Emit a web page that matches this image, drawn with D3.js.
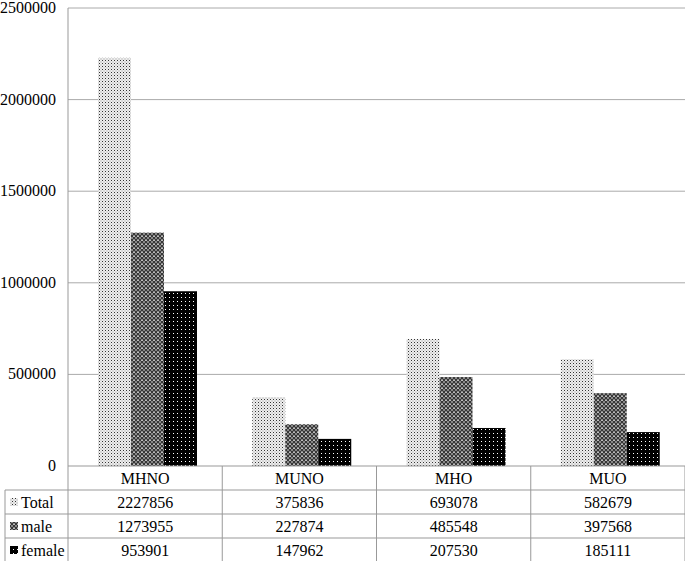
<!DOCTYPE html>
<html><head><meta charset="utf-8">
<script src="https://cdn.jsdelivr.net/npm/d3@7"></script>
<style>body{margin:0;background:#fff}svg text{font-family:'Liberation Serif','Times New Roman','DejaVu Serif',serif;fill:#000}</style>
</head><body><div id="vis"></div>
<script>
const categories = ["MHNO", "MUNO", "MHO", "MUO"];
const seriesNames = ["Total", "male", "female"];
const total = [2227856, 375836, 693078, 582679];
const male = [1273955, 227874, 485548, 397568];
const female = [953901, 147962, 207530, 185111];
const yTicks = [0, 500000, 1000000, 1500000, 2000000, 2500000];
const series = [total, male, female];

const W = 685, H = 561;
const plot = {left: 68, right: 685, top: 8, bottom: 466};
const rowH = 24;
const fs = 16;

const svg = d3.select('#vis').append('svg').attr('width', W).attr('height', H)
    .attr('font-family', "'Liberation Serif','Times New Roman','DejaVu Serif',serif");

// fill patterns
const defs = svg.append('defs');
const pTotal = defs.append('pattern').attr('id', 'pTotal').attr('width', 3).attr('height', 3).attr('patternUnits', 'userSpaceOnUse');
pTotal.append('rect').attr('width', 3).attr('height', 3).attr('fill', '#eee');
pTotal.append('rect').attr('width', 1).attr('height', 1).attr('fill', '#333');
pTotal.append('rect').attr('x', 1.5).attr('y', 1.5).attr('width', 1).attr('height', 1).attr('fill', '#999');
const pMale = defs.append('pattern').attr('id', 'pMale').attr('width', 4).attr('height', 4).attr('patternUnits', 'userSpaceOnUse');
pMale.append('rect').attr('width', 4).attr('height', 4).attr('fill', '#888');
pMale.append('path').attr('d', 'M0,0L4,4M4,0L0,4').attr('stroke', '#222').attr('stroke-width', 0.8);
pMale.append('rect').attr('x', 1.5).attr('y', 0).attr('width', 1).attr('height', 1).attr('fill', '#eee');
const pFemale = defs.append('pattern').attr('id', 'pFemale').attr('width', 4).attr('height', 4).attr('patternUnits', 'userSpaceOnUse');
pFemale.append('rect').attr('width', 4).attr('height', 4).attr('fill', '#000');
pFemale.append('rect').attr('x', 1).attr('y', 1).attr('width', 1).attr('height', 1).attr('fill', '#fff');
const fills = ['url(#pTotal)', 'url(#pMale)', 'url(#pFemale)'];

const x = d3.scaleBand().domain(categories).range([plot.left, plot.right]);
const y = d3.scaleLinear().domain([0, 2500000]).range([plot.bottom, plot.top]);

// gridlines
svg.append('g').selectAll('line').data(yTicks.slice(1)).join('line')
    .attr('x1', plot.left).attr('x2', plot.right)
    .attr('y1', d => y(d)).attr('y2', d => y(d))
    .attr('stroke', '#aaa');
svg.append('g').selectAll('text').data(yTicks).join('text')
    .attr('x', 56).attr('y', d => y(d) + 5).attr('text-anchor', 'end')
    .attr('font-size', fs).text(d => d);

// bars
const bw = 33, offset = 30;
series.forEach((vals, s) => {
    svg.append('g').selectAll('rect').data(vals).join('rect')
        .attr('x', (d, i) => x(categories[i]) + offset + s * bw)
        .attr('y', d => y(d)).attr('width', bw)
        .attr('height', d => plot.bottom - y(d))
        .attr('fill', fills[s]);
});

// table
const g = svg.append('g').attr('stroke', '#999').attr('fill', 'none');
g.append('line').attr('x1', plot.left).attr('x2', plot.left).attr('y1', plot.top).attr('y2', H);
for (let r = 0; r <= 4; r++) {
    const yy = plot.bottom + r * rowH;
    g.append('line').attr('x1', r === 0 ? plot.left : 5).attr('x2', W).attr('y1', yy).attr('y2', yy);
}
g.append('line').attr('x1', 5).attr('x2', 5).attr('y1', plot.bottom + rowH).attr('y2', H);
categories.forEach(c => {
    g.append('line').attr('x1', x(c) + x.bandwidth()).attr('x2', x(c) + x.bandwidth())
        .attr('y1', plot.bottom).attr('y2', H);
});
svg.append('g').selectAll('text').data(categories).join('text')
    .attr('x', d => x(d) + x.bandwidth() / 2).attr('y', plot.bottom + 18)
    .attr('text-anchor', 'middle').attr('font-size', fs).text(d => d);
series.forEach((vals, s) => {
    const yy = plot.bottom + (s + 1) * rowH;
    svg.append('rect').attr('x', 10).attr('y', yy + 8).attr('width', 8).attr('height', 8).attr('fill', fills[s]);
    svg.append('text').attr('x', 21).attr('y', yy + 18).attr('font-size', fs).text(seriesNames[s]);
    svg.append('g').selectAll('text').data(vals).join('text')
        .attr('x', (d, i) => x(categories[i]) + x.bandwidth() / 2).attr('y', yy + 18)
        .attr('text-anchor', 'middle').attr('font-size', fs).text(d => d);
});
</script></body></html>
